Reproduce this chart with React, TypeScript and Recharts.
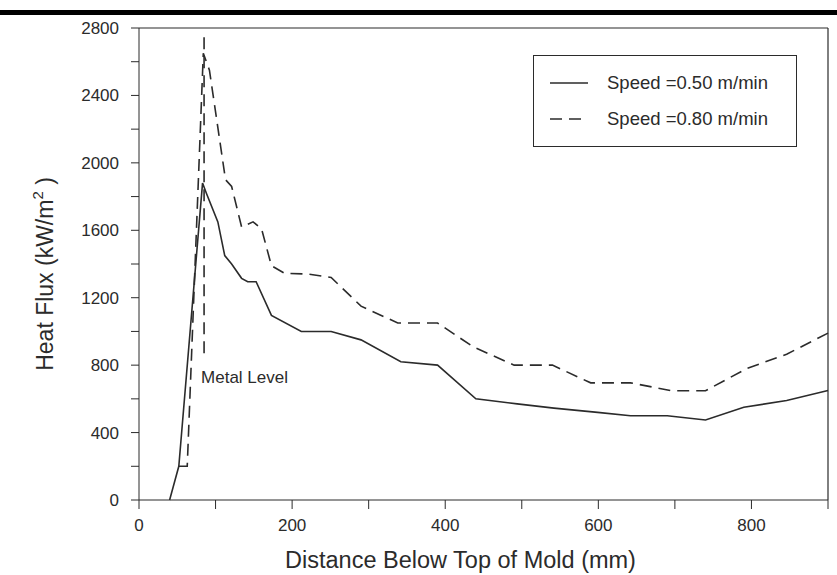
import React from 'react';
import {
  LineChart,
  Line,
  XAxis,
  YAxis,
  ReferenceLine,
} from 'recharts';

// distance below top of mold (mm) and heat flux (kW/m2)
const slowX = [40, 52, 83, 88, 103, 112, 121, 134, 142, 153, 173, 212, 251, 290, 342, 390, 440, 494, 542, 599, 642, 690, 740, 790, 846, 900];
const slowY = [0, 200, 1880, 1820, 1650, 1450, 1400, 1315, 1295, 1295, 1095, 1000, 1000, 950, 820, 800, 600, 570, 545, 520, 500, 500, 475, 550, 590, 650];

const fastX = [52, 63, 84, 92, 113, 121, 134, 149, 160, 173, 190, 221, 251, 290, 338, 390, 436, 490, 540, 590, 642, 696, 740, 794, 846, 900];
const fastY = [200, 200, 2650, 2550, 1900, 1860, 1620, 1650, 1610, 1390, 1345, 1340, 1320, 1150, 1050, 1050, 910, 800, 800, 695, 695, 648, 648, 780, 865, 990];

const xTicks = [0, 100, 200, 300, 400, 500, 600, 700, 800, 900];
const yTicks = [0, 200, 400, 600, 800, 1000, 1200, 1400, 1600, 1800, 2000, 2200, 2400, 2600, 2800];

const seriesNames = ['Speed =0.50 m/min', 'Speed =0.80 m/min'];

const metalLevelX = 85;
const metalLevelRange = [870, 2750];

const slowData = slowX.map((x, i) => ({ x, y: slowY[i] }));
const fastData = fastX.map((x, i) => ({ x, y: fastY[i] }));

const FONT = '"Liberation Sans", Arial, Helvetica, sans-serif';
const INK = '#2b2b2b';
const DASH = '12 7';

// legend box drawn over the chart, top right of the plot
function LegendBox() {
  return (
    <div
      style={{
        position: 'absolute',
        left: 533,
        top: 55,
        width: 264,
        height: 92,
        boxSizing: 'border-box',
        border: `1.5px solid ${INK}`,
        background: '#fff',
        fontFamily: FONT,
        fontSize: 18.5,
        color: INK,
      }}
    >
      {seriesNames.map((name, i) => (
        <div
          key={name}
          style={{
            position: 'absolute',
            left: 15,
            top: i === 0 ? 15 : 51,
            height: 24,
            display: 'flex',
            alignItems: 'center',
            whiteSpace: 'nowrap',
          }}
        >
          <svg width={40} height={6} style={{ marginRight: 18 }}>
            <line
              x1={1}
              y1={3}
              x2={39}
              y2={3}
              stroke={INK}
              strokeWidth={1.6}
              strokeDasharray={i === 0 ? undefined : DASH}
            />
          </svg>
          <span>{name}</span>
        </div>
      ))}
    </div>
  );
}

const YTitle = ({ viewBox }: any) => {
  const cx = 53;
  const cy = viewBox.y + viewBox.height / 2 + 10;
  return (
    <text
      x={cx}
      y={cy}
      transform={`rotate(-90 ${cx} ${cy})`}
      textAnchor="middle"
      fill={INK}
      fontSize={23}
      fontFamily={FONT}
    >
      Heat Flux (kW/m
      <tspan dy={-10} fontSize={15}>2</tspan>
      <tspan dy={10}> )</tspan>
    </text>
  );
};

const XTitle = ({ viewBox }: any) => (
  <text
    x={viewBox.x + viewBox.width / 2 - 23}
    y={viewBox.y + 68}
    textAnchor="middle"
    fill={INK}
    fontSize={23.5}
    fontFamily={FONT}
  >
    Distance Below Top of Mold (mm)
  </text>
);

const MetalLabel = ({ viewBox }: any) => (
  <text
    x={viewBox.x - 3}
    y={viewBox.y + viewBox.height + 30}
    fill={INK}
    fontSize={17}
    fontFamily={FONT}
  >
    Metal Level
  </text>
);

export default function App() {
  const tickStyle = { fill: INK, fontSize: 17, fontFamily: FONT };
  return (
    <div style={{ position: 'absolute', left: 0, top: 0, width: 837, height: 575, background: '#fff' }}>
      <div style={{ position: 'absolute', left: 0, top: 10, width: 837, height: 5, background: '#000' }} />
      <LineChart
        width={837}
        height={575}
        margin={{ top: 28, right: 9, bottom: 0, left: 0 }}
      >
        <XAxis
          type="number"
          dataKey="x"
          domain={[0, 900]}
          ticks={xTicks}
          interval={0}
          tickFormatter={(v: number) => (v % 200 === 0 ? String(v) : '')}
          height={75}
          tickSize={9}
          tickMargin={10}
          tick={tickStyle}
          stroke={INK}
          label={<XTitle />}
        />
        <YAxis
          type="number"
          dataKey="y"
          domain={[0, 2800]}
          ticks={yTicks}
          interval={0}
          tickFormatter={(v: number) => (v % 400 === 0 ? String(v) : '')}
          width={139}
          tickSize={8}
          tickMargin={12}
          tick={tickStyle}
          stroke={INK}
          label={<YTitle />}
        />
        <ReferenceLine y={2800} stroke={INK} strokeWidth={1.2} />
        <ReferenceLine x={900} stroke={INK} strokeWidth={1.2} />
        <ReferenceLine
          segment={[
            { x: metalLevelX, y: metalLevelRange[0] },
            { x: metalLevelX, y: metalLevelRange[1] },
          ]}
          stroke={INK}
          strokeWidth={1.6}
          strokeDasharray={DASH}
          label={<MetalLabel />}
        />
        <Line
          data={slowData}
          dataKey="y"
          name={seriesNames[0]}
          type="linear"
          stroke={INK}
          strokeWidth={1.6}
          dot={false}
          activeDot={false}
          isAnimationActive={false}
        />
        <Line
          data={fastData}
          dataKey="y"
          name={seriesNames[1]}
          type="linear"
          stroke={INK}
          strokeWidth={1.6}
          strokeDasharray={DASH}
          dot={false}
          activeDot={false}
          isAnimationActive={false}
        />
      </LineChart>
      <LegendBox />
    </div>
  );
}
